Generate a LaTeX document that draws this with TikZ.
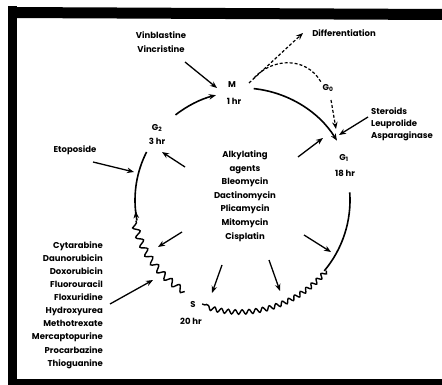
\documentclass[tikz,border=0pt]{standalone}
\usepackage{fontspec}
\setmainfont{Poppins}
\usetikzlibrary{arrows.meta,decorations.pathmorphing}
\begin{document}
\begin{tikzpicture}[x=1pt,y=-1pt,
  lab/.style={inner sep=0pt, font=\fontsize{8.5}{9}\selectfont\bfseries},
  cyc/.style={line width=1.6pt},
  tip/.style={-{Stealth[length=7pt,width=5.5pt]}},
  drug/.style={line width=1.3pt, tip},
  wav/.style={line width=1.4pt, decorate, decoration={snake, amplitude=2.2pt, segment length=7pt}},
  wavb/.style={line width=1.4pt, decorate, decoration={snake, amplitude=3.2pt, segment length=10pt}},
  dsh/.style={line width=1.2pt, dash pattern=on 3pt off 2pt}]
\useasboundingbox (0,0) rectangle (442,385);
% frame
\fill (8,6) rectangle (17,385);
\fill (8,7) -- (442,9) -- (442,20) -- (8,18) -- cycle;
\fill (8,379) rectangle (442,385);

% phase labels
\node[lab] (M) at (232,85) {M};
\node[lab] (Mt) at (234,101) {1 hr};
\node[lab] (G2) at (157,128) {G\textsubscript{2}};
\node[lab] (G2t) at (157,141) {3 hr};
\node[lab] (G0) at (328,88) {G\textsubscript{0}};
\node[lab] (G1) at (344,158) {G\textsubscript{1}};
\node[lab] (G1t) at (345,173) {18 hr};
\node[lab] (S) at (193,305) {S};
\node[lab] (St) at (191,321) {20 hr};

% cycle arcs
\begin{scope}[shift={(242,200)}]
\draw[cyc,tip] (232:108) arc[start angle=232, end angle=256, radius=108];
\draw[cyc,tip] (276:112) arc[start angle=276, end angle=328, radius=112];
\draw[cyc] (356:108) arc[start angle=356, end angle=400, radius=110];
\draw[wav] (400:110) arc[start angle=400, end angle=470, radius=112];
\draw[wavb] (122:108) arc[start angle=122, end angle=169, radius=108];
\draw[cyc,tip] (169:107) arc[start angle=169, end angle=174, radius=107];
\draw[cyc] (172:107) arc[start angle=172, end angle=207, radius=106];
\end{scope}

% dashed paths
\node[lab] (Diff) at (344,33) {Differentiation};
\coordinate (Mo) at (249,83);
\coordinate (Mo2) at (254,78);
\coordinate (Dd) at (303,33);
\coordinate (G0a) at (321,82);
\coordinate (G0b) at (331,100);
\coordinate (G1in) at (336,129);
\draw[dsh,tip] (Mo) -- (Dd);
\draw[dsh] (Mo2) .. controls (272,58) and (306,56) .. (G0a);
\draw[dsh,tip] (G0b) -- (G1in);

% drug labels
\node[lab, align=center, font=\fontsize{8.5}{14.5}\selectfont\bfseries] (Vin) at (161,42) {Vinblastine\\Vincristine};
\node[lab] (Eto) at (75,150) {Etoposide};
\node[lab, align=left, anchor=west, font=\fontsize{8.5}{12}\selectfont\bfseries] (Ster) at (371,124) {Steroids\\Leuprolide\\Asparaginase};
\node[lab, align=center, font=\fontsize{8.5}{13.6}\selectfont\bfseries] (Alk) at (245,196) {Alkylating\\agents\\Bleomycin\\Dactinomycin\\Plicamycin\\Mitomycin\\Cisplatin};
\node[lab, align=right, anchor=east, font=\fontsize{8.5}{13.1}\selectfont\bfseries] (Anti) at (103,305) {Cytarabine\\Daunorubicin\\Doxorubicin\\Fluorouracil\\Floxuridine\\Hydroxyurea\\Methotrexate\\Mercaptopurine\\Procarbazine\\Thioguanine};

% drug arrows
\coordinate (a1) at (185,62);  \coordinate (b1) at (217,88);
\coordinate (a2) at (93,162);  \coordinate (b2) at (134,172);
\coordinate (a3) at (185,167); \coordinate (b3) at (162,152);
\coordinate (a4) at (182,232); \coordinate (b4) at (158,247);
\coordinate (a5) at (110,304); \coordinate (b5) at (153,280);
\coordinate (a6) at (222,265); \coordinate (b6) at (212,293);
\coordinate (a7) at (269,260); \coordinate (b7) at (280,291);
\coordinate (a8) at (304,235); \coordinate (b8) at (331,252);
\coordinate (a9) at (298,157); \coordinate (b9) at (323,138);
\coordinate (a10) at (368,117); \coordinate (b10) at (339,135);
\foreach \i in {1,...,10} {\draw[drug] (a\i) -- (b\i);}
\end{tikzpicture}
\end{document}
